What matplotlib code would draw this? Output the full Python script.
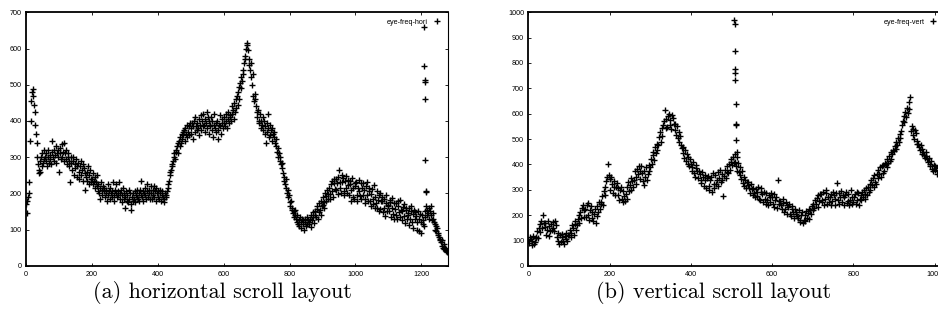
import numpy as np
import matplotlib
matplotlib.use("Agg")
import matplotlib.pyplot as plt

# ---------------- data: panel (a) eye-freq-hori (sampled every 2 px) ----------------
hori_step = 2
hori_y = [
    170, 145, 180, 190, 200, 230, 345, 400, 455, 480,
    487, 470, 445, 425, 390, 365, 340, 300, 280, 265,
    255, 258, 290, 300, 275, 310, 285, 295, 320, 300,
    290, 310, 275, 300, 320, 285, 295, 305, 280, 315,
    345, 300, 290, 320, 305, 330, 285, 310, 320, 300,
    260, 310, 325, 295, 335, 300, 315, 340, 290, 310,
    295, 320, 280, 300, 310, 275, 290, 230, 300, 285,
    265, 290, 300, 250, 280, 270, 295, 245, 275, 285,
    260, 240, 275, 290, 250, 265, 280, 235, 270, 255,
    210, 245, 260, 235, 275, 250, 225, 265, 240, 230,
    240, 225, 255, 235, 215, 245, 230, 220, 250, 205,
    225, 200, 215, 185, 230, 210, 195, 220, 205, 215,
    190, 210, 200, 180, 225, 195, 205, 185, 215, 200,
    205, 190, 230, 195, 180, 210, 200, 225, 190, 205,
    195, 230, 185, 200, 210, 175, 195, 215, 185, 200,
    160, 190, 205, 180, 195, 175, 210, 185, 200, 170,
    155, 190, 180, 200, 185, 205, 175, 195, 190, 210,
    185, 200, 180, 210, 195, 235, 190, 205, 180, 200,
    195, 215, 185, 205, 225, 190, 200, 210, 185, 220,
    200, 185, 210, 195, 220, 190, 205, 180, 215, 200,
    190, 205, 185, 200, 210, 180, 195, 205, 190, 175,
    185, 200, 190, 195, 205, 215, 225, 235, 250, 260,
    265, 280, 275, 290, 300, 310, 295, 315, 320, 330,
    310, 340, 345, 330, 355, 340, 365, 350, 370, 360,
    375, 345, 380, 365, 390, 355, 370, 385, 360, 395,
    380, 365, 395, 350, 385, 400, 370, 410, 385, 375,
    395, 380, 360, 405, 390, 415, 375, 400, 385, 420,
    390, 370, 405, 395, 425, 380, 410, 365, 400, 390,
    385, 410, 375, 400, 355, 390, 420, 380, 395, 370,
    400, 375, 350, 390, 415, 385, 365, 405, 395, 380,
    395, 410, 385, 420, 400, 380, 405, 425, 395, 410,
    415, 400, 440, 420, 430, 405, 450, 425, 460, 435,
    470, 445, 480, 460, 495, 505, 490, 520, 510, 540,
    530, 560, 570, 580, 600, 610, 614, 595, 570, 555,
    540, 560, 520, 500, 530, 470, 455, 475, 460, 440,
    425, 410, 430, 400, 395, 420, 380, 400, 390, 410,
    375, 400, 365, 385, 340, 395, 370, 420, 380, 355,
    390, 360, 375, 345, 380, 365, 355, 370, 340, 350,
    330, 315, 325, 300, 310, 290, 300, 280, 270, 285,
    255, 245, 235, 225, 240, 215, 200, 210, 190, 195,
    175, 165, 180, 155, 160, 145, 150, 135, 140, 155,
    130, 120, 140, 115, 125, 110, 135, 120, 105, 130,
    115, 125, 100, 130, 120, 110, 135, 115, 125, 120,
    115, 130, 140, 108, 125, 148, 135, 118, 150, 140,
    135, 158, 165, 128, 148, 172, 155, 140, 180, 165,
    168, 190, 175, 160, 200, 192, 178, 210, 198, 185,
    215, 198, 185, 225, 235, 205, 190, 228, 240, 212,
    210, 240, 228, 198, 245, 263, 232, 215, 200, 250,
    230, 242, 205, 195, 235, 248, 215, 200, 238, 222,
    195, 235, 225, 180, 208, 242, 215, 190, 185, 228,
    220, 232, 195, 180, 215, 238, 205, 192, 228, 185,
    215, 195, 228, 210, 172, 185, 220, 232, 195, 178,
    205, 215, 178, 165, 198, 212, 185, 170, 222, 160,
    190, 172, 160, 205, 182, 150, 195, 200, 158, 178,
    178, 190, 148, 160, 185, 138, 172, 195, 150, 165,
    168, 150, 182, 175, 135, 160, 188, 142, 130, 172,
    158, 172, 140, 128, 165, 178, 148, 135, 182, 155,
    150, 125, 162, 170, 138, 118, 155, 160, 128, 140,
    145, 160, 112, 130, 165, 150, 120, 105, 142, 155,
    130, 148, 138, 100, 120, 152, 95, 128, 142, 90,
    120, 140, 115, 125, 110, 135, 150, 165, 140, 155,
    145, 160, 130, 150, 165, 140, 125, 145, 130, 120,
    115, 100, 110, 95, 105, 85, 90, 80, 75, 70,
    65, 55, 70, 50, 60, 45, 50, 40, 45, 38,
]
hori_spike_x = [1208, 1209, 1210, 1210, 1211, 1212, 1213, 1214]
hori_spike_y = [660, 551, 513, 508, 460, 293, 206, 203]

# ---------------- data: panel (b) eye-freq-vert (sampled every 2 px) ----------------
vert_step = 2
vert_y = [
    100, 88, 115, 106, 82, 97, 118, 86, 94, 110,
    115, 135, 108, 150, 165, 132, 178, 150, 200, 170,
    152, 170, 122, 140, 178, 155, 118, 135, 165, 142,
    172, 150, 135, 178, 160, 112, 130, 98, 86, 120,
    92, 115, 125, 96, 84, 118, 104, 130, 98, 120,
    120, 142, 112, 130, 160, 150, 122, 165, 175, 140,
    160, 185, 200, 168, 212, 188, 228, 240, 192, 218,
    225, 192, 240, 248, 200, 180, 218, 235, 188, 212,
    178, 205, 222, 170, 195, 235, 210, 250, 225, 242,
    250, 275, 240, 295, 310, 280, 335, 350, 400, 358,
    342, 300, 350, 322, 285, 312, 335, 280, 310, 328,
    305, 280, 258, 298, 312, 265, 250, 295, 275, 255,
    282, 265, 312, 332, 295, 320, 345, 300, 335, 310,
    340, 375, 350, 322, 382, 362, 392, 342, 372, 395,
    365, 335, 318, 375, 352, 388, 340, 360, 398, 372,
    390, 420, 402, 435, 450, 418, 468, 445, 482, 458,
    475, 508, 528, 490, 545, 512, 555, 570, 615, 545,
    578, 548, 590, 600, 555, 575, 540, 595, 582, 558,
    560, 535, 515, 552, 502, 528, 490, 510, 475, 465,
    470, 445, 425, 458, 415, 440, 402, 428, 395, 420,
    402, 388, 375, 410, 365, 352, 398, 385, 372, 348,
    375, 362, 340, 325, 368, 350, 315, 338, 358, 308,
    345, 355, 315, 300, 338, 350, 290, 365, 322, 308,
    358, 322, 340, 370, 315, 345, 378, 330, 360, 338,
    276, 355, 378, 345, 368, 392, 365, 400, 378, 410,
    420, 398, 430, 405, 440, 410, 392, 375, 405, 368,
    390, 358, 342, 375, 328, 352, 315, 340, 305, 332,
    330, 318, 305, 285, 322, 302, 278, 308, 285, 272,
    302, 275, 290, 310, 262, 258, 292, 305, 282, 252,
    290, 262, 245, 285, 258, 240, 280, 252, 272, 288,
    272, 245, 282, 232, 258, 270, 228, 340, 255, 242,
    255, 240, 225, 248, 262, 210, 222, 250, 240, 205,
    232, 242, 205, 195, 225, 235, 212, 188, 222, 205,
    212, 198, 188, 218, 172, 182, 200, 210, 168, 180,
    200, 178, 215, 190, 208, 225, 185, 220, 205, 235,
    218, 245, 228, 258, 242, 268, 232, 278, 255, 282,
    282, 258, 250, 290, 238, 265, 285, 298, 245, 272,
    252, 270, 282, 240, 255, 292, 278, 238, 262, 288,
    325, 258, 285, 242, 272, 295, 250, 280, 238, 270,
    278, 290, 248, 255, 282, 240, 258, 298, 272, 245,
    252, 270, 282, 242, 258, 292, 285, 238, 262, 278,
    258, 292, 272, 300, 262, 282, 305, 278, 312, 290,
    322, 300, 338, 318, 348, 310, 358, 330, 322, 362,
    345, 378, 360, 388, 350, 392, 365, 398, 372, 405,
    402, 388, 422, 405, 432, 412, 448, 420, 440, 455,
    452, 472, 460, 490, 475, 505, 488, 518, 502, 532,
    555, 572, 590, 568, 605, 588, 622, 602, 645, 618,
    666, 530, 552, 540, 515, 500, 535, 522, 492, 480,
    482, 470, 458, 475, 442, 462, 450, 435, 425, 448,
    432, 420, 408, 425, 392, 400, 412, 380, 372, 398,
    378, 392, 385, 362, 372, 398, 388, 368, 375, 385,
]
vert_spike_x = [507, 508, 508, 509, 510, 510, 511, 511, 512, 512, 513, 514]
vert_spike_y = [968, 952, 846, 778, 761, 732, 640, 561, 555, 495, 449, 430]

hori_xticks = [0, 200, 400, 600, 800, 1000, 1200]
hori_yticks = [0, 100, 200, 300, 400, 500, 600, 700]
vert_xticks = [0, 200, 400, 600, 800, 1000]
vert_yticks = [0, 100, 200, 300, 400, 500, 600, 700, 800, 900, 1000]

W, H = 938, 318
fig = plt.figure(figsize=(W / 100, H / 100), dpi=100)

bottom = (H - 265.7) / H
height = (265.7 - 12.3) / H
ax1 = fig.add_axes([26 / W, bottom, 421.7 / W, height])
ax2 = fig.add_axes([528.3 / W, bottom, 416 / W, height])

tick_font = dict(family=["Liberation Sans", "DejaVu Sans"], size=5.2)
mk = dict(marker="+", linestyle="none", color="black", markersize=4.2,
          markeredgewidth=1.0)


def style(ax, xmax, ymax, xt, yt, label, xs, ys, sx, sy):
    ax.plot(xs, ys, label=label, **mk)
    ax.plot(sx, sy, **mk)
    ax.set_xlim(0, xmax)
    ax.set_ylim(0, ymax)
    ax.set_xticks(xt)
    ax.set_yticks(yt)
    ax.set_xticklabels([str(v) for v in xt], fontdict=tick_font)
    ax.set_yticklabels([str(v) for v in yt], fontdict=tick_font)
    ax.tick_params(direction="in", length=2.5, width=0.6, top=True,
                   right=True, color="black")
    ax.tick_params(axis="x", pad=4)
    ax.tick_params(axis="y", pad=3)
    for s in ("left", "bottom", "top"):
        ax.spines[s].set_linewidth(1.3)
    ax.spines["right"].set_linewidth(0.8)
    leg = ax.legend(loc="upper right", frameon=False, markerfirst=False,
                    prop=dict(family=["Liberation Sans", "DejaVu Sans"], size=5.2),
                    handlelength=1.2, handletextpad=0.6, borderaxespad=0.5,
                    numpoints=1)
    return leg


hx = np.arange(len(hori_y)) * hori_step
vx = np.arange(len(vert_y)) * vert_step
style(ax1, 1280, 700, hori_xticks, hori_yticks, "eye-freq-hori",
      hx, hori_y, hori_spike_x, hori_spike_y)
style(ax2, 1024, 1000, vert_xticks, vert_yticks, "eye-freq-vert",
      vx, vert_y, vert_spike_x, vert_spike_y)

cap_font = dict(family=["cmr10", "DejaVu Serif"], size=16)
fig.text(222 / W, 1 - 292 / H, "(a) horizontal scroll layout", ha="center",
         va="center", fontdict=cap_font)
fig.text(714 / W, 1 - 292 / H, "(b) vertical scroll layout", ha="center",
         va="center", fontdict=cap_font)

fig.savefig("out.png", dpi=100)
